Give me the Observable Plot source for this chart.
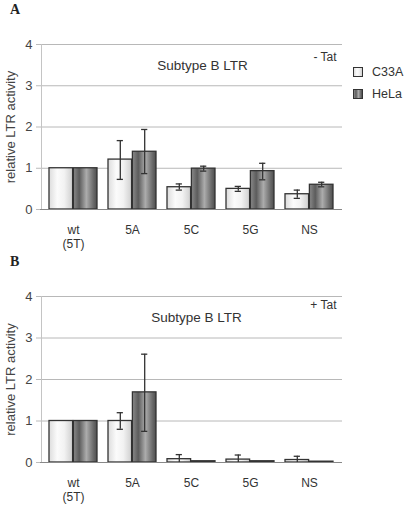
<!DOCTYPE html>
<html>
<head>
<meta charset="utf-8">
<script src="https://cdn.jsdelivr.net/npm/d3@7"></script>
<script src="https://cdn.jsdelivr.net/npm/@observablehq/plot@0.6"></script>
<style>
  html, body { margin: 0; padding: 0; background: #fff; }
  #wrap { position: relative; width: 404px; height: 508px; font-family: "Liberation Sans", Arial, sans-serif; color: #333; }
  .panel { position: absolute; left: 0; z-index: 1; }
  .letter { position: absolute; z-index: 2; font-family: "Liberation Serif", "Times New Roman", serif; font-weight: bold; font-size: 14px; color: #222; }
  .legend { position: absolute; z-index: 2; left: 353px; top: 66px; font-size: 12.5px; color: #333; }
  .legend div { display: flex; align-items: center; height: 11px; margin-bottom: 11px; }
  .sw { width: 8px; height: 8px; border: 1px solid #333; margin-right: 9px; }
  .swC { background: linear-gradient(to right, #dcdcdc, #fbfbfb 35%, #f2f2f2 65%, #d0d0d0); }
  .swH { background: linear-gradient(to right, #8a8a8a, #5c5c5c 25%, #ababab 55%, #6a6a6a 85%, #4e4e4e); }
</style>
</head>
<body>
<div id="wrap">
  <div class="letter" style="left:10px;top:2px">A</div>
  <div class="letter" style="left:10px;top:254px">B</div>
  <div class="legend">
    <div><span class="sw swC"></span>C33A</div>
    <div><span class="sw swH"></span>HeLa</div>
  </div>
</div>
<script>
// ---- data ----
const categories = ["wt (5T)", "5A", "5C", "5G", "NS"];
const tickLabels = ["wt\n(5T)", "5A", "5C", "5G", "NS"];
const series = ["C33A", "HeLa"];

// Panel A (- Tat)
const c33aA    = [1.00, 1.21, 0.54, 0.50, 0.37];
const c33aALo  = [null, 0.73, 0.47, 0.44, 0.27];
const c33aAHi  = [null, 1.67, 0.62, 0.56, 0.47];
const helaA    = [1.00, 1.40, 0.99, 0.93, 0.60];
const helaALo  = [null, 0.87, 0.93, 0.72, 0.55];
const helaAHi  = [null, 1.94, 1.05, 1.12, 0.66];

// Panel B (+ Tat)
const c33aB    = [1.00, 1.00, 0.08, 0.07, 0.06];
const c33aBLo  = [null, 0.80, 0.00, 0.00, 0.00];
const c33aBHi  = [null, 1.20, 0.19, 0.18, 0.15];
const helaB    = [1.00, 1.69, 0.03, 0.03, 0.02];
const helaBLo  = [null, 0.75, null, null, null];
const helaBHi  = [null, 2.61, null, null, null];

const yTicks = [0, 1, 2, 3, 4];

// layout constants
const W = 404, ML = 40, MR = 62;
const PAD_IN = 0.18, PAD_OUT = 0.128;
const band = d3.scaleBand().domain(categories).range([ML, W - MR]).paddingInner(PAD_IN).paddingOuter(PAD_OUT);
const bw = band.bandwidth();
const half = bw / 2;
const capInset = (half - 7) / 2;
const leftDx = -(band(categories[0]) - ML) - half;

function rows(vals, lo, hi, s) {
  return categories.map((c, i) => ({cat: c, series: s, value: vals[i], lo: lo[i], hi: hi[i]}));
}

function panel({c, cl, ch, h, hl, hh, height, mt, mb, title, titleDx, tat, tatDy, id}) {
  const dC = rows(c, cl, ch, "C33A");
  const dH = rows(h, hl, hh, "HeLa");
  const eC = dC.filter(d => d.lo != null);
  const eH = dH.filter(d => d.lo != null);
  const labelOf = new Map(categories.map((c, i) => [c, tickLabels[i]]));
  const ink = {stroke: "#333", strokeWidth: 1.3};
  const errMarks = (e, off) => {
    const insets = {insetLeft: capInset + (off > 0 ? half : 0), insetRight: capInset + (off < 0 ? half : 0)};
    return [
      Plot.ruleX(e, {x: "cat", y1: "lo", y2: "hi", dx: off, ...ink}),
      Plot.tickY(e, {x: "cat", y: "hi", ...insets, ...ink}),
      Plot.tickY(e.filter(d => d.lo > 0), {x: "cat", y: "lo", ...insets, ...ink})
    ];
  };
  const svg = Plot.plot({
    width: W,
    height,
    marginLeft: ML,
    marginRight: MR,
    marginTop: mt,
    marginBottom: mb,
    style: {fontFamily: "'Liberation Sans', Arial, sans-serif", fontSize: "12px", color: "#333", background: "transparent"},
    x: {domain: categories, paddingInner: PAD_IN, paddingOuter: PAD_OUT, label: null},
    y: {domain: [0, 4], ticks: yTicks, label: "relative LTR activity"},
    marks: [
      Plot.gridY(yTicks.slice(1), {stroke: "#b8b8b8", strokeOpacity: 1, strokeWidth: 1}),
      Plot.axisY(yTicks, {tickSize: 4, tickPadding: 4, stroke: "#bbb", fill: "#444", fontSize: 13,
        label: "relative LTR activity", labelAnchor: "center", labelOffset: 35, labelArrow: "none"}),
      Plot.axisX({tickSize: 0, tickPadding: 14, fontSize: 12, fill: "#333", lineHeight: 1.2, label: null, tickFormat: d => labelOf.get(d)}),
      Plot.ruleX([categories[0]], {x: d => d, dx: leftDx, stroke: "#c4c4c4"}),
      Plot.barY(dC, {x: "cat", y: "value", insetRight: half, fill: `url(#${id}C)`, ...ink}),
      Plot.barY(dH, {x: "cat", y: "value", insetLeft: half, fill: `url(#${id}H)`, ...ink}),
      ...errMarks(eC, -half / 2),
      ...errMarks(eH, half / 2),
      Plot.ruleY([0], {stroke: "#888", strokeWidth: 1}),
      Plot.text([title], {text: d => d, frameAnchor: "top", dy: 21, dx: titleDx, fontSize: 13.5, fill: "#333", lineAnchor: "middle"}),
      Plot.text([tat], {text: d => d, frameAnchor: "top-right", textAnchor: "end", dy: tatDy, dx: -6, fontSize: 12, fill: "#333", lineAnchor: "middle"})
    ]
  });
  const defs = `<defs>
    <linearGradient id="${id}C" x1="0" x2="1" y1="0" y2="0">
      <stop offset="0" stop-color="#dcdcdc"/><stop offset="0.35" stop-color="#fbfbfb"/>
      <stop offset="0.65" stop-color="#f2f2f2"/><stop offset="1" stop-color="#cfcfcf"/>
    </linearGradient>
    <linearGradient id="${id}H" x1="0" x2="1" y1="0" y2="0">
      <stop offset="0" stop-color="#8a8a8a"/><stop offset="0.25" stop-color="#5c5c5c"/>
      <stop offset="0.55" stop-color="#acacac"/><stop offset="0.85" stop-color="#6a6a6a"/>
      <stop offset="1" stop-color="#4e4e4e"/>
    </linearGradient></defs>`;
  d3.select(svg).insert("g", ":first-child").html(defs);
  return svg;
}

const wrap = document.getElementById("wrap");
const a = panel({c: c33aA, cl: c33aALo, ch: c33aAHi, h: helaA, hl: helaALo, hh: helaAHi,
  height: 256, mt: 44, mb: 47, title: "Subtype B LTR", titleDx: 11, tat: "- Tat", tatDy: 13, id: "gA"});
a.classList.add("panel"); a.style.top = "0px";
wrap.appendChild(a);
const b = panel({c: c33aB, cl: c33aBLo, ch: c33aBHi, h: helaB, hl: helaBLo, hh: helaBHi,
  height: 258, mt: 46, mb: 46, title: "Subtype B LTR", titleDx: 5, tat: "+ Tat", tatDy: 9, id: "gB"});
b.classList.add("panel"); b.style.top = "250px";
wrap.appendChild(b);
</script>
</body>
</html>
